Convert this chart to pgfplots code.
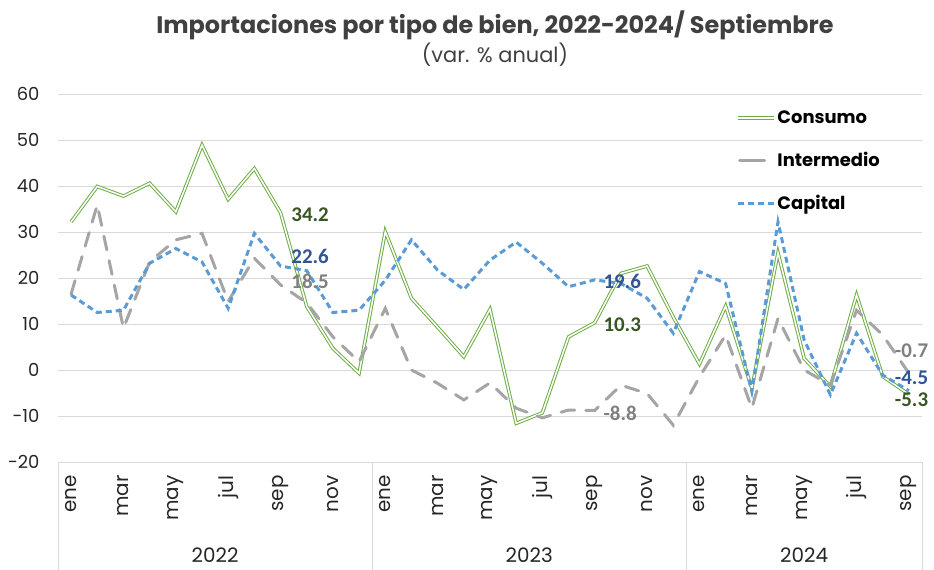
\documentclass[border=0pt]{standalone}
\usepackage{fontspec}
\setmainfont{Poppins}
\newfontfamily\lblfont{Carlito}
\usepackage{pgfplots}
\pgfplotsset{compat=1.18}
\usepackage{pgfplotstable}

\definecolor{cgreen}{HTML}{70AD47}
\definecolor{dgreen}{HTML}{375623}
\definecolor{cgray}{HTML}{A5A5A5}
\definecolor{dgray}{HTML}{7F7F7F}
\definecolor{cblue}{HTML}{5B9BD5}
\definecolor{dblue}{HTML}{2F5597}
\definecolor{gridgray}{HTML}{D9D9D9}
\definecolor{titlegray}{HTML}{404040}

\pgfplotstableread{
x c i k
0 32.2 16.5 16.3
1 39.9 35.9 12.5
2 37.8 9.1 13.0
3 40.6 23.5 23.2
4 34.4 28.3 26.4
5 48.9 29.7 23.5
6 37.1 14.9 13.4
7 43.8 24.3 29.7
8 34.2 18.5 22.6
9 13.8 14.6 21.6
10 4.7 7.2 12.5
11 -0.7 1.8 13.0
12 30.1 13.4 19.5
13 15.6 0.0 28.3
14 9.3 -2.9 21.7
15 2.9 -6.5 17.5
16 13.2 -2.8 23.9
17 -11.6 -8.3 27.8
18 -9.3 -10.4 23.2
19 7.2 -8.7 18.1
20 10.3 -8.8 19.6
21 21.0 -3.3 18.8
22 22.6 -5.1 15.6
23 11.5 -12.0 8.0
24 1.3 -1.5 21.4
25 13.9 7.6 18.8
26 -4.0 -8.3 -4.7
27 25.5 11.2 32.2
28 2.5 0.0 6.5
29 -3.6 -3.3 -5.4
30 16.3 13.0 8.0
31 -1.4 7.6 -1.1
32 -5.3 -0.7 -4.5
}\data

\begin{document}
\begin{tikzpicture}
\begin{axis}[
  at={(58bp,108bp)}, anchor=south west,
  width=864bp, height=368bp, scale only axis,
  xmin=-0.5, xmax=32.5, ymin=-20, ymax=60,
  ytick={-20,-10,...,60},
  xtick={0,2,...,32},
  xticklabels={ene,mar,may,jul,sep,nov,ene,mar,may,jul,sep,nov,ene,mar,may,jul,sep},
  x tick label style={rotate=90, anchor=east, font=\fontsize{20}{20}\selectfont, text=black!85, xshift=-10bp},
  y tick label style={font=\fontsize{18}{18}\selectfont, text=black!85},
  /pgf/number format/assume math mode=true,
  ymajorgrids, grid style={draw=gridgray, line width=0.8bp},
  axis line style={draw=none},
  major tick length=0pt,
  yticklabel style={xshift=-15bp},
  clip=false,
  legend style={at={(0.781,0.965)}, anchor=north west, draw=none, fill=none,
    font=\bfseries\fontsize{18}{18}\selectfont, row sep=23bp,
    /tikz/every even column/.append style={column sep=2bp}},
  legend cell align=left,
  legend image code/.code={\draw[#1] (0bp,0bp) -- (36bp,0bp);},
]
\addplot[draw=cgreen, line width=1bp, double=white, double distance=1.5bp] table[x=x,y=c] {\data};
\addlegendentry{Consumo}
\addplot[draw=cgray, line width=3bp, line cap=round, dash pattern=on 14bp off 11bp,
  legend image code/.code={\draw[solid, cgray, line width=3bp, line cap=round] (2bp,0bp) -- (27bp,0bp);}] table[x=x,y=i] {\data};
\addlegendentry{Intermedio}
\addplot[draw=cblue, line width=3bp, dash pattern=on 6bp off 4bp] table[x=x,y=k] {\data};
\addlegendentry{Capital}

\begin{scope}[every node/.style={font=\lblfont\bfseries\fontsize{21}{21}\selectfont}]
\node[text=dgreen] at (axis cs:9.13,33.7) {34.2};
\node[text=dblue] at (axis cs:9.13,24.6) {22.6};
\node[text=dgray] at (axis cs:9.13,19.2) {18.5};
\node[text=dblue] at (axis cs:21.05,19.2) {19.6};
\node[text=dgreen] at (axis cs:21.05,9.8) {10.3};
\node[text=dgray] at (axis cs:20.97,-9.4) {-8.8};
\node[text=dgray] at (axis cs:32.1,4.3) {-0.7};
\node[text=dblue] at (axis cs:32.1,-1.7) {-4.5};
\node[text=dgreen] at (axis cs:32.1,-6.5) {-5.3};
\end{scope}

\draw[gridgray, line width=0.8bp] (axis cs:-0.5,-20) -- ([yshift=-108bp]axis cs:-0.5,-20);
\draw[gridgray, line width=0.8bp] (axis cs:11.5,-20) -- ([yshift=-108bp]axis cs:11.5,-20);
\draw[gridgray, line width=0.8bp] (axis cs:23.5,-20) -- ([yshift=-108bp]axis cs:23.5,-20);
\draw[gridgray, line width=0.8bp] (axis cs:32.5,-20) -- ([yshift=-108bp]axis cs:32.5,-20);
\node[font=\fontsize{20}{20}\selectfont, text=black!85] at ([yshift=-93bp]axis cs:5.5,-20) {2022};
\node[font=\fontsize{20}{20}\selectfont, text=black!85] at ([yshift=-93bp]axis cs:17.5,-20) {2023};
\node[font=\fontsize{20}{20}\selectfont, text=black!85] at ([yshift=-93bp]axis cs:28,-20) {2024};
\end{axis}
\node[font=\bfseries\fontsize{24}{24}\selectfont, text=titlegray] at (495bp,545bp) {Importaciones por tipo de bien, 2022-2024/ Septiembre};
\node[font=\fontsize{21}{21}\selectfont, text=titlegray] at (495bp,515bp) {(var. \% anual)};
\pgfresetboundingbox
\path[use as bounding box] (0,0) rectangle (934bp,570bp);
\end{tikzpicture}
\end{document}
